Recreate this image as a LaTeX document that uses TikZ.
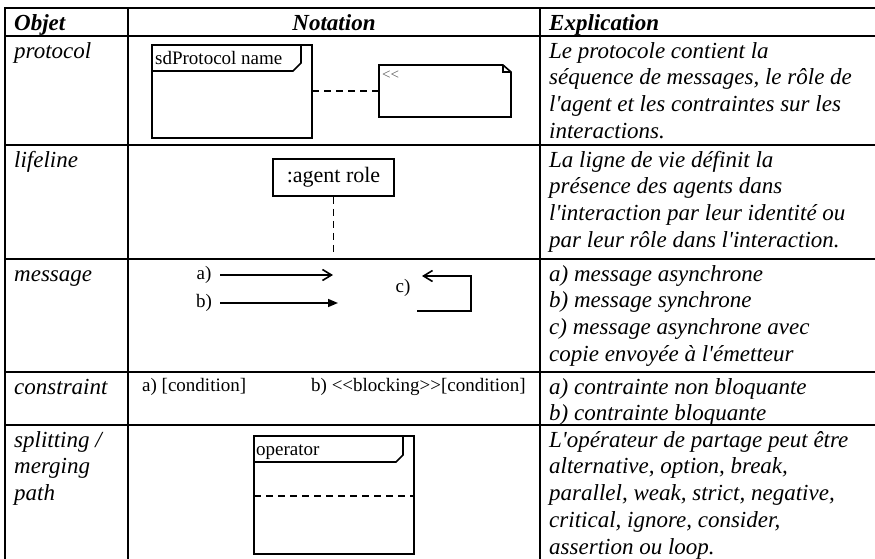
\documentclass[tikz,border=0pt]{standalone}
\usepackage{fontspec}
\newfontfamily\tnr{Liberation Serif}
\usetikzlibrary{arrows.meta}

\begin{document}
\begin{tikzpicture}[x=1pt,y=-1pt,
  grid/.style={line width=2.4pt, line cap=rect},
  thinline/.style={line width=1.6pt},
  dashline/.style={line width=1.7pt, dash pattern=on 7pt off 5pt},
  body/.style={font=\tnr\fontsize{23}{26.7}\selectfont\itshape, anchor=north west, inner sep=0pt, align=left},
  headtxt/.style={font=\tnr\fontsize{23}{26.7}\selectfont\bfseries\itshape, anchor=base west, inner sep=0pt},
  nota/.style={font=\tnr\fontsize{19}{22}\selectfont, inner sep=0pt},
  openhead/.style={-{Straight Barb[length=9pt,width=11pt]}},
  fullhead/.style={-{Triangle[length=10pt,width=8pt]}},
]
\useasboundingbox (0,0) rectangle (875,558);

% table rules
\draw[grid] (5,8) -- (875,8);
\foreach \yy in {36,145,259,372,425} \draw[grid] (5,\yy) -- (875,\yy);
\foreach \xx in {5,128,540} \draw[grid] (\xx,8) -- (\xx,560);

% header
\node[headtxt] (hObj) at (14,30) {Objet};
\node[headtxt, anchor=base] (hNot) at (334,30) {Notation};
\node[headtxt] (hExp) at (549,30) {Explication};

% first column
\node[body] (oProt) at (14,39.3) {\strut protocol};
\node[body] (oLife) at (14,148.3) {\strut lifeline};
\node[body] (oMsg) at (14,262.3) {\strut message};
\node[body] (oCons) at (14,375.3) {\strut constraint};
\node[body] (oSplit) at (14,428.3) {\strut splitting /\\merging\\path};

% third column
\node[body] (eProt) at (549,39.3) {\strut Le protocole contient la\\s\'equence de messages, le r\^ole de\\l'agent et les contraintes sur les\\interactions.};
\node[body] (eLife) at (549,148.3) {\strut La ligne de vie d\'efinit la\\pr\'esence des agents dans\\l'interaction par leur identit\'e ou\\par leur r\^ole dans l'interaction.};
\node[body] (eMsg) at (549,262.3) {\strut a) message asynchrone\\b) message synchrone\\c) message asynchrone avec\\copie envoy\'ee \`a l'\'emetteur};
\node[body] (eCons) at (549,375.3) {\strut a) contrainte non bloquante\\b) contrainte bloquante};
\node[body] (eSplit) at (549,428.3) {\strut L'op\'erateur de partage peut \^etre\\alternative, option, break,\\parallel, weak, strict, negative,\\critical, ignore, consider,\\assertion ou loop.};

% protocol frame and constraint note
\draw[thinline] (152,45) rectangle (312,138);
\draw[thinline] (152,71) -- (293,71) -- (301,63) -- (301,45);
\node[nota, anchor=base west] (sdLbl) at (155,64) {sdProtocol name};
\draw[thinline] (379,65) -- (503,65) -- (511,72) -- (511,117) -- (379,117) -- cycle;
\draw[thinline] (503,65) -- (503,72) -- (511,72);
\node[font=\tnr\fontsize{15}{16}\selectfont, text=black!65, anchor=base west, inner sep=0pt] (stereo) at (382,79) {<<};
\coordinate (pL) at (312,91);
\coordinate (pR) at (379,91);
\draw[dashline] (pL) -- (pR);

% lifeline
\node[draw, thinline, minimum width=121pt, minimum height=37pt, inner sep=0pt, font=\tnr\fontsize{22}{24}\selectfont] (agent) at (333.5,177.5) {:agent role};
\coordinate (lifeEnd) at (333.5,254);
\draw[dashline] (agent.south) -- (lifeEnd);

% messages
\node[nota] (la) at (204,275) {a)};
\node[nota] (lb) at (204,303) {b)};
\node[nota] (lc) at (403,288) {c)};
\coordinate (a1) at (220,275); \coordinate (a2) at (333,275);
\coordinate (b1) at (220,303); \coordinate (b2) at (338,303);
\coordinate (c0) at (417,311); \coordinate (c1) at (471,311);
\coordinate (c2) at (471,276); \coordinate (c3) at (422,276);
\draw[thinline, openhead] (a1) -- (a2);
\draw[thinline, fullhead] (b1) -- (b2);
\draw[thinline, openhead] (c0) -- (c1) -- (c2) -- (c3);

% constraints
\node[nota, anchor=base west] (ca) at (142,391) {a) [condition]};
\node[nota, anchor=base west] (cb) at (311,391) {b) <<blocking>>[condition]};

% combined fragment
\draw[thinline] (254,436) rectangle (414,554);
\draw[thinline] (254,462) -- (396,462) -- (403,455) -- (403,436);
\node[nota, anchor=base west] (op) at (256,455) {operator};
\draw[dashline] (254,496) -- (414,496);
\end{tikzpicture}
\end{document}
